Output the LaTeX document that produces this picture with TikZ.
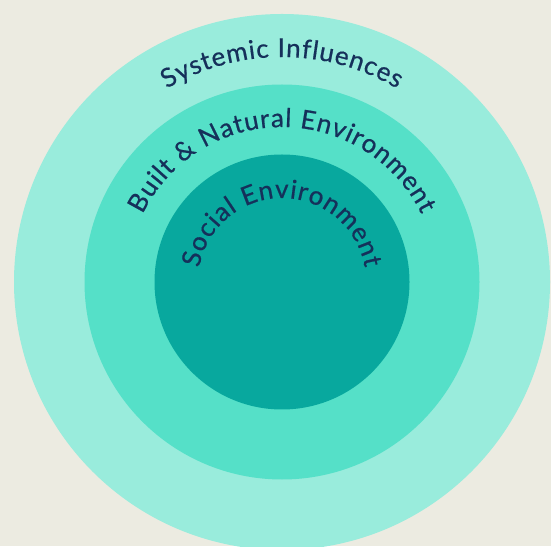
\documentclass[tikz,border=0pt]{standalone}
\usepackage{fontspec}
\setmainfont{Lato}
\newfontfamily\ringface{Lato}[FakeBold=0.6]
\definecolor{paper}{HTML}{ECEBE1}
\definecolor{ringout}{HTML}{99ECDC}
\definecolor{ringmid}{HTML}{55E0C8}
\definecolor{ringin}{HTML}{08A89E}
\definecolor{ink}{HTML}{15305A}
\newcommand{\ringfont}{\ringface\fontsize{26}{26}\selectfont}
\newlength{\arcpos}
\newlength{\chw}
% #1 list macro, #2 letters of the label: stores letter/width pairs
\newcommand{\measurelabel}[2]{%
	\gdef#1{}%
	\foreach \ch in {#2}{%
		\settowidth{\chw}{\ringfont\ch}\addtolength{\chw}{0.9pt}%
		\ifx#1\empty\xdef#1{\ch/\the\chw}\else\xdef#1{#1,\ch/\the\chw}\fi
	}%
}
% #1 radius, #2 list macro
\newcommand{\ringlabel}[2]{%
	\global\arcpos=0pt
	\foreach \ch/\w in #2 {\global\advance\arcpos by \w}
	\global\arcpos=-0.5\arcpos
	\foreach \ch/\w in #2 {%
		\pgfmathsetmacro{\ang}{90-deg((\arcpos+0.5*\w)/#1)}%
		\path (c) ++(\ang:#1) node[letter,rotate=\ang-90] {\ch};
		\global\advance\arcpos by \w
	}%
}
\tikzset{
	ring/.style={circle,inner sep=0,draw=none},
	letter/.style={anchor=base,inner sep=0,text=ink,font=\ringfont}
}

\begin{document}
\measurelabel{\systemictext}{S,y,s,t,e,m,i,c,\ ,I,n,f,l,u,e,n,c,e,s}%
\measurelabel{\builttext}{B,u,i,l,t,\ ,\&,\ ,N,a,t,u,r,a,l,\ ,E,n,v,i,r,o,n,m,e,n,t}%
\measurelabel{\socialtext}{S,o,c,i,a,l,\ ,E,n,v,i,r,o,n,m,e,n,t}%
\begin{tikzpicture}[x=1pt,y=1pt]
		\useasboundingbox (0,0) rectangle (551,546);
		\clip (0,0) rectangle (551,546);
		\fill[paper] (0,0) rectangle (551,546);
		
		%%%% rings
		\coordinate (c) at (282,264);
		\node[ring,fill=ringout,minimum size=536pt] (systemic) at (c) {};
		\node[ring,fill=ringmid,minimum size=395pt] (built) at (c) {};
		\node[ring,fill=ringin,minimum size=255pt] (social) at (c) {};
		
		%%%% labels
		\ringlabel{225}{\systemictext}
		\ringlabel{155}{\builttext}
		\ringlabel{84}{\socialtext}
		
	\end{tikzpicture}
\end{document}
